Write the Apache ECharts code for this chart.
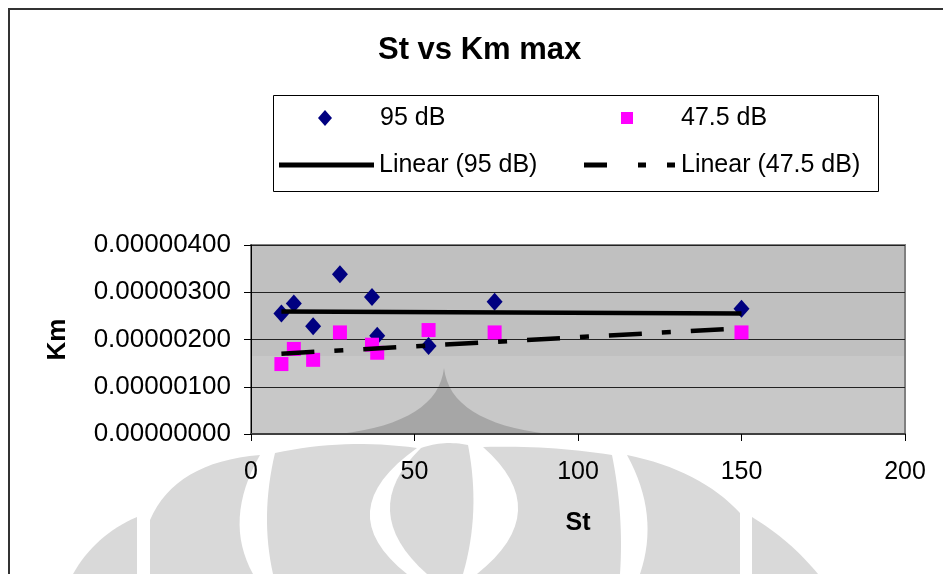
<!DOCTYPE html>
<html>
<head>
<meta charset="utf-8">
<script src="https://cdn.jsdelivr.net/npm/echarts@6/dist/echarts.min.js"></script>
<style>html,body{margin:0;padding:0;background:#fff}#c{width:943px;height:574px}</style>
</head>
<body>
<div id="c"></div>
<script>
// ---- data ----
const st = [9.3, 13.1, 19, 27.2, 37, 38.6, 54.3, 74.5, 150];
const km95 = [2.55e-6, 2.76e-6, 2.28e-6, 3.38e-6, 2.90e-6, 2.08e-6, 1.86e-6, 2.80e-6, 2.65e-6];
const km475 = [1.48e-6, 1.80e-6, 1.57e-6, 2.15e-6, 1.89e-6, 1.72e-6, 2.20e-6, 2.15e-6, 2.15e-6];
const trendX = [9.3, 150];
const trend95 = [2.59e-6, 2.55e-6];
const trend475 = [1.70e-6, 2.24e-6];
const xTicks = [0, 50, 100, 150, 200];
const yTicks = [0, 1e-6, 2e-6, 3e-6, 4e-6];
const seriesNames = ['95 dB', '47.5 dB', 'Linear (95 dB)', 'Linear (47.5 dB)'];

const FONT = 'Liberation Sans, Arial, sans-serif';
const pairs = (xs, ys) => xs.map((x, i) => [x, ys[i]]);
const wm = '#D9D9D9';

// decorative background: turn a simple M/L/Q path into polygon points
function pathPts(d) {
  const tok = d.match(/[MLQZ]|-?\d+(\.\d+)?/g);
  const pts = []; let i = 0, cur = null, cmd = null;
  while (i < tok.length) {
    const t = tok[i];
    if (/[MLQZ]/.test(t)) { cmd = t; i++; if (t === 'Z') continue; }
    if (cmd === 'M' || cmd === 'L') { cur = [+tok[i], +tok[i + 1]]; pts.push(cur); i += 2; }
    else if (cmd === 'Q') {
      const c = [+tok[i], +tok[i + 1]], e = [+tok[i + 2], +tok[i + 3]]; i += 4;
      for (let k = 1; k <= 16; k++) {
        const s = k / 16, a = (1 - s) * (1 - s), b = 2 * (1 - s) * s, q = s * s;
        pts.push([a * cur[0] + b * c[0] + q * e[0], a * cur[1] + b * c[1] + q * e[1]]);
      }
      cur = e;
    } else i++;
  }
  return pts;
}
const poly = (d, fill, z) => ({type: 'polygon', z: z, silent: true, shape: {points: pathPts(d)}, style: {fill: fill}});

const chart = echarts.init(document.getElementById('c'), null, {renderer: 'canvas'});
const legText = {fontFamily: FONT, fontSize: 25, color: '#000', lineHeight: 26};

chart.setOption({
  backgroundColor: '#fff',
  animation: false,
  title: {
    text: 'St vs Km max', left: 378, top: 35, padding: 0,
    textStyle: {fontFamily: FONT, fontSize: 31, fontWeight: 'bold', color: '#000'}
  },
  graphic: [
    poly('M73,574 Q95,535 137,517 L137,574 Z', wm, -10),
    poly('M150,574 L150,520 Q175,462 260,455 Q223,520 253,574 Z', wm, -10),
    poly('M273,574 Q260,516 275,453 Q345,438 417,448 Q328,511 407,574 Z', wm, -10),
    poly('M421,448 Q444,440 468,445 Q481,512 463,574 L427,574 Q356,511 421,448 Z', wm, -10),
    poly('M483,447 Q548,445 612,455 Q624,515 620,574 L477,574 Q556,511 483,447 Z', wm, -10),
    poly('M627,455 Q700,470 740,513 L740,574 L640,574 Q660,515 627,455 Z', wm, -10),
    poly('M752,574 L752,517 Q790,540 818,574 Z', wm, -10),
    {type: 'rect', z: -9, silent: true, shape: {x: 251, y: 245, width: 654, height: 111}, style: {fill: '#C0C0C0'}},
    {type: 'rect', z: -9, silent: true, shape: {x: 251, y: 356, width: 654, height: 78}, style: {fill: '#C8C8C8'}},
    poly('M444,368 Q450,422 548,434 L340,434 Q438,422 444,368 Z', '#A6A6A6', -8),
    {type: 'rect', z: -9, silent: true, shape: {x: 273.5, y: 95.5, width: 605, height: 96}, style: {fill: '#fff', stroke: '#000', lineWidth: 1}},
    {type: 'polyline', z: -9, silent: true, shape: {points: [[9, 574], [9, 9], [943, 9]]}, style: {stroke: '#333', lineWidth: 2, fill: null}}
  ],
  grid: {left: 251, right: 38, top: 245, bottom: 140, show: true, borderColor: '#808080', borderWidth: 2, backgroundColor: 'transparent'},
  legend: [
    {data: [{name: seriesNames[0], icon: 'diamond'}], left: 318, top: 105, padding: 0, itemWidth: 14, itemHeight: 16,
     textStyle: Object.assign({padding: [0, 0, 0, 43]}, legText)},
    {data: [{name: seriesNames[1], icon: 'rect'}], left: 621, top: 105, padding: 0, itemWidth: 12, itemHeight: 12,
     textStyle: Object.assign({padding: [0, 0, 0, 43]}, legText)},
    {data: [{name: seriesNames[2], icon: 'rect'}], left: 279, top: 152, padding: 0, itemWidth: 95, itemHeight: 5,
     textStyle: Object.assign({padding: [0, 0, 0, 0]}, legText)},
    {data: [{name: seriesNames[3], icon: 'path://M0,0h23v5h-23z M54,0h8v5h-8z M83,0h8v5h-8z'}], left: 584, top: 152, padding: 0, itemWidth: 91, itemHeight: 5,
     textStyle: Object.assign({padding: [0, 0, 0, 1]}, legText)}
  ],
  xAxis: {
    type: 'value', min: xTicks[0], max: xTicks[xTicks.length - 1], interval: xTicks[1] - xTicks[0],
    name: 'St', nameLocation: 'middle', nameGap: 77,
    nameTextStyle: {fontFamily: FONT, fontSize: 25, fontWeight: 'bold', color: '#000'},
    axisLine: {show: true, lineStyle: {color: '#404040', width: 2}},
    axisTick: {show: true, inside: false, length: 7, lineStyle: {color: '#000', width: 1}},
    axisLabel: {fontFamily: FONT, fontSize: 25, color: '#000', margin: 26},
    splitLine: {show: false}
  },
  yAxis: {
    type: 'value', min: yTicks[0], max: yTicks[yTicks.length - 1], interval: yTicks[1] - yTicks[0],
    name: 'Km', nameLocation: 'middle', nameGap: 180, nameRotate: 90,
    nameTextStyle: {fontFamily: FONT, fontSize: 26, fontWeight: 'bold', color: '#000'},
    axisLine: {show: true, lineStyle: {color: '#000', width: 1}},
    axisTick: {show: true, inside: false, length: 7, lineStyle: {color: '#000', width: 1}},
    axisLabel: {fontFamily: FONT, fontSize: 26, color: '#000', margin: 20, formatter: v => v.toFixed(8)},
    splitLine: {show: true, lineStyle: {color: '#222', width: 1}}
  },
  series: [
    {name: seriesNames[0], type: 'scatter', symbol: 'diamond', symbolSize: [16, 18], z: 3,
     itemStyle: {color: '#000080', opacity: 1}, data: pairs(st, km95)},
    {name: seriesNames[1], type: 'scatter', symbol: 'rect', symbolSize: 14, z: 3,
     itemStyle: {color: '#FF00FF', opacity: 1}, data: pairs(st, km475)},
    {name: seriesNames[2], type: 'line', symbol: 'none', z: 4,
     lineStyle: {color: '#000', width: 4.5}, itemStyle: {color: '#000'}, data: pairs(trendX, trend95)},
    {name: seriesNames[3], type: 'line', symbol: 'none', z: 4,
     lineStyle: {color: '#000', width: 4.5, type: [33, 20, 9, 20]}, itemStyle: {color: '#000'}, data: pairs(trendX, trend475)}
  ]
});
</script>
</body>
</html>
